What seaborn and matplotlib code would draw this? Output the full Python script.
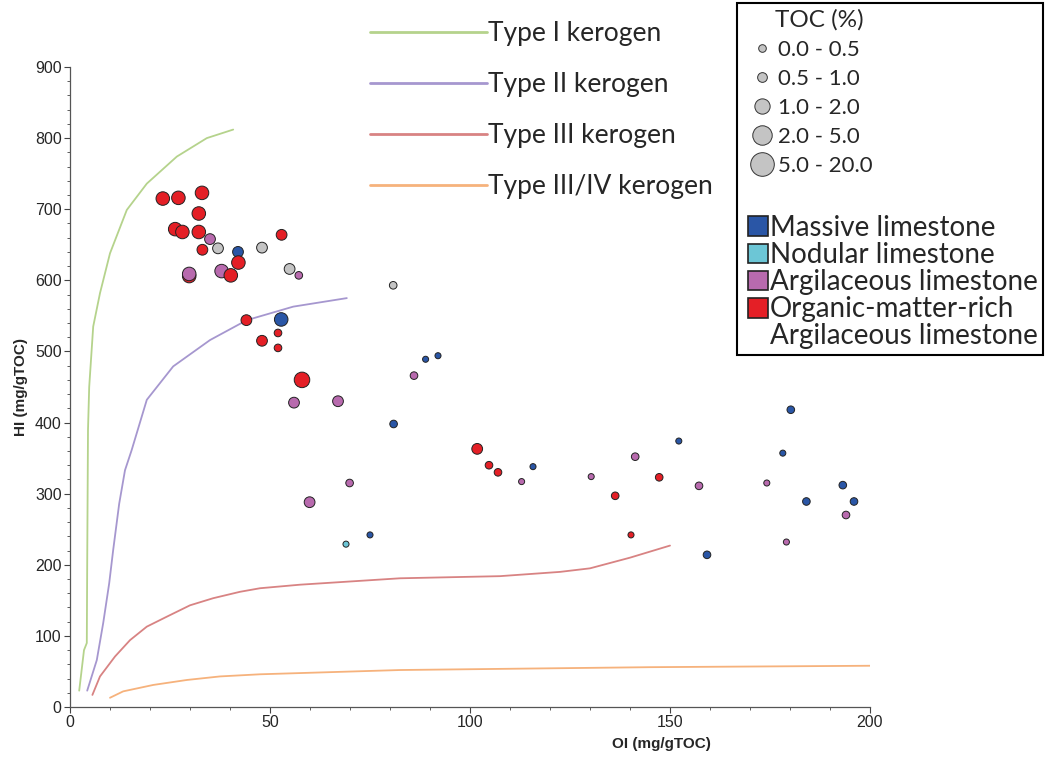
import pandas as pd
import matplotlib
matplotlib.use('Agg')
import matplotlib.pyplot as plt
from matplotlib.lines import Line2D
from matplotlib.patches import Patch, Rectangle
from matplotlib.ticker import MultipleLocator
import seaborn as sns

# Muestras: OI, HI, litologia, clase de TOC
oi = [23.2, 27.1, 33.0, 32.2, 26.3, 28.1, 32.2, 35.0, 37.0, 33.1, 42.0, 42.1,
      52.9, 48.0, 29.8, 29.8, 37.9, 40.2, 54.9, 57.2, 80.8,
      44.1, 52.8, 52.0, 48.0, 52.0, 58.0, 56.0, 67.0, 80.9, 69.9, 59.9, 75.0, 69.0,
      88.9, 92.0, 86.0, 101.8, 104.75, 107.0, 112.9, 115.75, 130.3, 136.3, 141.3,
      152.2, 147.3, 140.25, 157.25, 159.25, 174.2, 180.2, 178.2, 193.2, 184.1,
      196.0, 194.0, 179.1]
hi = [715, 716, 723, 694, 672, 668, 668, 658, 645, 643, 640, 625,
      664, 646, 606, 609, 613, 607, 616, 607, 593,
      544, 545, 526, 515, 505, 460, 428, 430, 398, 315, 288, 242, 229,
      489, 494, 466, 363, 340, 330, 317, 338, 324, 297, 352,
      374, 323, 242, 311, 214, 315, 418, 357, 312, 289,
      289, 270, 232]
lith = ['O', 'O', 'O', 'O', 'O', 'O', 'O', 'A', 'U', 'O', 'M', 'O',
        'O', 'U', 'O', 'A', 'A', 'O', 'U', 'A', 'U',
        'O', 'M', 'O', 'O', 'O', 'O', 'A', 'A', 'M', 'A', 'A', 'M', 'N',
        'M', 'M', 'A', 'O', 'O', 'O', 'A', 'M', 'A', 'O', 'A',
        'M', 'O', 'O', 'A', 'M', 'A', 'M', 'M', 'M', 'M',
        'M', 'A', 'A']
toc = [3, 3, 3, 3, 3, 3, 3, 2, 2, 2, 2, 3,
       2, 2, 3, 3, 3, 3, 2, 1, 1,
       2, 3, 1, 2, 1, 4, 2, 2, 1, 1, 2, 0, 0,
       0, 0, 1, 2, 1, 1, 0, 0, 0, 1, 1,
       0, 1, 0, 1, 1, 0, 1, 0, 1, 1,
       1, 1, 0]

lith_names = {'M': 'Massive limestone', 'N': 'Nodular limestone',
              'A': 'Argilaceous limestone',
              'O': 'Organic-matter-rich Argilaceous limestone', 'U': 'Sin clasificar'}
lith_colors = {'Massive limestone': '#2a56a6', 'Nodular limestone': '#6cc6d6',
               'Argilaceous limestone': '#b86aae',
               'Organic-matter-rich Argilaceous limestone': '#e41f26',
               'Sin clasificar': '#c4c4c4'}
toc_labels = ['0.0 - 0.5', '0.5 - 1.0', '1.0 - 2.0', '2.0 - 5.0', '5.0 - 20.0']
toc_sizes = {0: 19, 1: 30, 2: 60, 3: 95, 4: 125}

# Curvas de tipos de kerogeno
k1_oi = [2.3, 3.5, 4.2, 4.3, 4.5, 4.8, 5.8, 7.5, 10, 14.2, 19.2, 26.7, 34.2, 40.8]
k1_hi = [23, 80, 90, 200, 390, 450, 535, 582, 638, 699, 736, 774, 800, 812]
k2_oi = [4.3, 6.7, 8.3, 9.8, 10.8, 12.3, 13.75, 15.4, 19.2, 25.8, 35, 44.2, 55.8, 69.2]
k2_hi = [23, 66, 118, 174, 221, 286, 333, 361, 432, 479, 516, 544, 563, 575]
k3_oi = [5.6, 7.5, 11.25, 15, 19.2, 24.2, 30, 35.8, 42.5, 47.5, 57.5, 82.5, 107.5,
         122.5, 130, 140, 150]
k3_hi = [17, 43, 71, 94, 113, 127, 143, 153, 162, 167, 172, 181, 184, 190, 195, 210, 227]
k4_oi = [10, 13.3, 20.8, 29.2, 37.5, 47.5, 82.5, 145, 200]
k4_hi = [13, 22, 31, 38, 43, 46, 52, 56, 58]
kerogen_labels = ['Type I kerogen', 'Type II kerogen', 'Type III kerogen', 'Type III/IV kerogen']
kerogen_colors = ['#b5d38c', '#a697cf', '#d88383', '#f6b27c']

df = pd.DataFrame({'OI': oi, 'HI': hi, 'TOC': toc,
                   'lith': [lith_names[c] for c in lith]})

sns.set_style('ticks')
W, H = 1046, 758
fig = plt.figure(figsize=(W / 100, H / 100), dpi=100)
ax = fig.add_axes([70 / W, 1 - 707 / H, 800 / W, 640 / H])

for kx, ky, col in zip([k1_oi, k2_oi, k3_oi, k4_oi], [k1_hi, k2_hi, k3_hi, k4_hi], kerogen_colors):
    sns.lineplot(x=kx, y=ky, sort=False, estimator=None, color=col, linewidth=1.3, ax=ax)

sns.scatterplot(data=df, x='OI', y='HI', hue='lith', palette=lith_colors,
                size='TOC', sizes=toc_sizes, edgecolor='#222222', linewidth=0.7,
                legend=False, ax=ax, zorder=3)

ax.set_xlim(0, 200)
ax.set_ylim(0, 900)
ax.xaxis.set_major_locator(MultipleLocator(50))
ax.xaxis.set_minor_locator(MultipleLocator(10))
ax.yaxis.set_major_locator(MultipleLocator(100))
ax.yaxis.set_minor_locator(MultipleLocator(20))
ax.tick_params(which='major', length=4, width=0.8, color='#444444', labelsize=11.5, pad=2)
ax.tick_params(which='minor', length=2.5, width=0.6, color='#444444')
for lab in ax.get_xticklabels() + ax.get_yticklabels():
    lab.set_fontfamily('Liberation Sans')
sns.despine(ax=ax)
for s in ['left', 'bottom']:
    ax.spines[s].set_color('#555555')
    ax.spines[s].set_linewidth(0.9)

ax.set_xlabel('OI (mg/gTOC)', fontsize=11, fontweight='bold', family='Liberation Sans')
ax.set_ylabel('HI (mg/gTOC)', fontsize=11, fontweight='bold', family='Liberation Sans')
ax.xaxis.set_label_coords(0.739, -0.047)
ax.yaxis.set_label_coords(-0.052, 0.5)

# Leyenda de kerogenos (arriba, sin marco)
k_handles = [Line2D([], [], color=c, linewidth=2) for c in kerogen_colors]
fig.legend(k_handles, kerogen_labels, loc='upper left',
           bbox_to_anchor=(370 / W, 1 - 21 / H), frameon=False,
           prop={'family': 'Lato', 'size': 19}, borderpad=0, borderaxespad=0,
           handlelength=4.45, handletextpad=0.04, labelspacing=0.99)

# Caja de leyenda derecha
fig.patches.append(Rectangle((737 / W, 1 - 355 / H), 306 / W, 352 / H,
                             transform=fig.transFigure, fill=False,
                             edgecolor='black', linewidth=1.5))
fig.text(775 / W, 1 - 20 / H, 'TOC (%)', family='Lato', fontsize=17.5, va='center', ha='left')

toc_ms = [5.5, 7, 11, 14, 17]
t_handles = [Line2D([], [], linestyle='none', marker='o', markersize=m,
                    markerfacecolor='#c4c4c4', markeredgecolor='#333333',
                    markeredgewidth=0.7) for m in toc_ms]
fig.legend(t_handles, toc_labels, loc='upper left',
           bbox_to_anchor=(748 / W, 1 - 40 / H), frameon=False,
           prop={'family': 'Lato', 'size': 16}, borderpad=0, borderaxespad=0,
           handlelength=1.25, handletextpad=0.1, labelspacing=0.4)

lith_order = ['Massive limestone', 'Nodular limestone', 'Argilaceous limestone',
              'Organic-matter-rich Argilaceous limestone']
l_handles = [Patch(facecolor=lith_colors[n], edgecolor='#222222', linewidth=1.2) for n in lith_order]
l_handles.append(Patch(visible=False))
l_labels = ['Massive limestone', 'Nodular limestone', 'Argilaceous limestone',
            'Organic-matter-rich', 'Argilaceous limestone']
fig.legend(l_handles, l_labels, loc='upper left',
           bbox_to_anchor=(748 / W, 1 - 215 / H), frameon=False,
           prop={'family': 'Lato', 'size': 20}, borderpad=0, borderaxespad=0,
           handlelength=0.72, handleheight=0.72, handletextpad=0.07, labelspacing=0.04)

fig.savefig('out.png', dpi=100)
